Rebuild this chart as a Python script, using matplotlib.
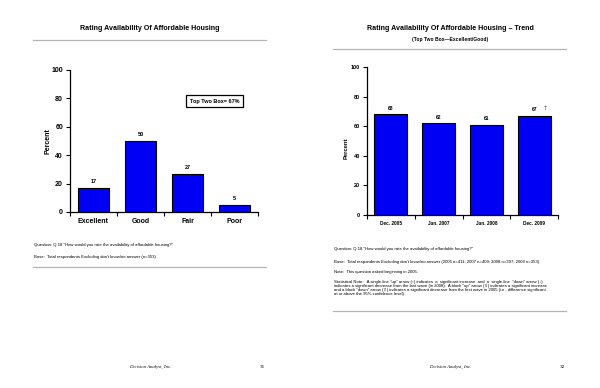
import matplotlib
matplotlib.use("Agg")
import matplotlib.pyplot as plt
import numpy as np

plt.rcParams['font.family'] = ['Liberation Sans', 'DejaVu Sans']

# left page: rating distribution
ratings = ["Excellent", "Good", "Fair", "Poor"]
rating_pct = [17, 50, 27, 5]
top_two_box = 67

# right page: top two box trend
waves = ["Dec. 2005", "Jan. 2007", "Jan. 2008", "Dec. 2009"]
trend_pct = [68, 62, 61, 67]
trend_flags = ["", "", "", "\u2191"]

y_ticks = [0, 20, 40, 60, 80, 100]

W, H = 600, 388
BLUE = "#0000F5"
GRAY = "#b4b4b4"
NOTE_FS = 3.1

fig = plt.figure(figsize=(W / 100, H / 100), dpi=100)
fig.patch.set_facecolor("white")


def px(x, y):
    # pixel coords (from top-left) -> figure fraction
    return x / W, 1 - y / H


def ftext(x, y, s, **kw):
    fx, fy = px(x, y)
    kw.setdefault("va", "center")
    fig.text(fx, fy, s, **kw)


def hline(x0, x1, y):
    fx0, fy = px(x0, y)
    fx1, _ = px(x1, y)
    fig.add_artist(plt.Line2D([fx0, fx1], [fy, fy], color=GRAY, lw=0.9))


def make_axes(left, right, top, bottom):
    ax = fig.add_axes([left / W, 1 - bottom / H, (right - left) / W, (bottom - top) / H])
    for s in ["top", "right"]:
        ax.spines[s].set_visible(False)
    for s in ["left", "bottom"]:
        ax.spines[s].set_linewidth(0.9)
    ax.set_xlim(-0.5, 3.5)
    ax.set_ylim(0, 100)
    ax.set_yticks(y_ticks)
    ax.set_xticks(np.arange(-0.5, 4.0, 1.0), minor=True)
    ax.tick_params(axis="x", which="major", length=0)
    ax.tick_params(axis="x", which="minor", length=3, width=0.8, direction="out")
    ax.tick_params(axis="y", length=3, width=0.8, direction="out")
    return ax


# ---------------- left page ----------------
ftext(150, 29, "Rating Availability Of Affordable Housing", ha="center",
      fontsize=5.1, fontweight="bold")
hline(33, 266, 40)

ax1 = make_axes(70, 258, 70, 212)
x1 = np.arange(len(ratings))
ax1.bar(x1, rating_pct, width=0.68, color=BLUE, edgecolor="black", lw=0.8)
ax1.set_xticks(x1)
ax1.set_xticklabels(ratings, fontsize=5, fontweight="bold")
ax1.tick_params(axis="x", which="major", pad=4)
ax1.set_yticklabels([str(v) for v in y_ticks], fontsize=5, fontweight="bold")
ax1.tick_params(axis="y", pad=2)
for xi, v in zip(x1, rating_pct):
    ax1.text(xi, v + 2.5, str(v), ha="center", va="bottom", fontsize=4, fontweight="bold")
ax1.text(0.769, 0.78, f"Top Two Box= {top_two_box}%", transform=ax1.transAxes,
         ha="center", va="center", fontsize=4, fontweight="bold",
         bbox=dict(boxstyle="square,pad=0.6", fc="white", ec="black", lw=0.9))
ftext(48, 141, "Percent", ha="center", rotation=90, fontsize=5, fontweight="bold")

ftext(34, 245, 'Question: Q.18 "How would you rate the availability of affordable housing?"',
      fontsize=NOTE_FS)
ftext(34, 257, "Base:  Total respondents Excluding don't know/no answer (n=353)",
      fontsize=NOTE_FS)
hline(33, 266, 267)

ftext(150, 367, "Decision Analyst, Inc.", ha="center", fontsize=3.4,
      family="Liberation Serif", style="italic")
ftext(262, 367, "31", ha="center", fontsize=3.8, family="Liberation Serif")

# ---------------- right page ----------------
ftext(450, 29, "Rating Availability Of Affordable Housing \u2013 Trend", ha="center",
      fontsize=5.1, fontweight="bold")
ftext(450, 39, "(Top Two Box\u2014Excellent/Good)", ha="center",
      fontsize=3.6, fontweight="bold")
hline(333, 566, 49)

ax2 = make_axes(367, 558, 67, 215)
x2 = np.arange(len(waves))
ax2.bar(x2, trend_pct, width=0.69, color=BLUE, edgecolor="black", lw=0.8)
ax2.set_xticks(x2)
ax2.set_xticklabels(waves, fontsize=3.4, fontweight="bold")
ax2.tick_params(axis="x", which="major", pad=4)
ax2.set_yticklabels([str(v) for v in y_ticks], fontsize=4, fontweight="bold")
ax2.tick_params(axis="y", pad=2)
for xi, v, fl in zip(x2, trend_pct, trend_flags):
    ax2.text(xi, v + 2.5, str(v), ha="center", va="bottom", fontsize=3.6, fontweight="bold")
    if fl:
        ax2.text(xi + 0.18, v + 3.3, fl, ha="left", va="bottom", fontsize=4.5,
                 color="#555555", family="DejaVu Sans")
ftext(346, 148, "Percent", ha="center", rotation=90, fontsize=4.2, fontweight="bold")

notes = [
    (249, 'Question: Q.18 "How would you rate the availability of affordable housing?"'),
    (262, "Base:  Total respondents Excluding don't know/no answer "
          "(2005 n=411; 2007 n=409; 2008 n=397; 2009 n=353)"),
    (272, "Note:  This question asked beginning in 2005."),
    (282, 'Statistical Note:   A single-line "up" arrow (\u2191) indicates  a  significant increase  '
          'and  a  single-line  "down" arrow (\u2193)'),
    (286, 'indicates a significant decrease from the last wave (in 2008).  A block "up" arrow '
          '(\u21e7) indicates a significant increase'),
    (290, 'and a block "down" arrow (\u21e9) indicates a significant decrease from the first wave '
          'in 2005 (i.e., difference significant'),
    (294.5, "at or above the 95% confidence level)."),
]
for yy, s in notes:
    ftext(334, yy, s, fontsize=NOTE_FS)
hline(333, 566, 311)

ftext(450, 367, "Decision Analyst, Inc.", ha="center", fontsize=3.4,
      family="Liberation Serif", style="italic")
ftext(562, 367, "32", ha="center", fontsize=3.8, family="Liberation Serif")

fig.savefig("out.png", dpi=100, facecolor="white")
